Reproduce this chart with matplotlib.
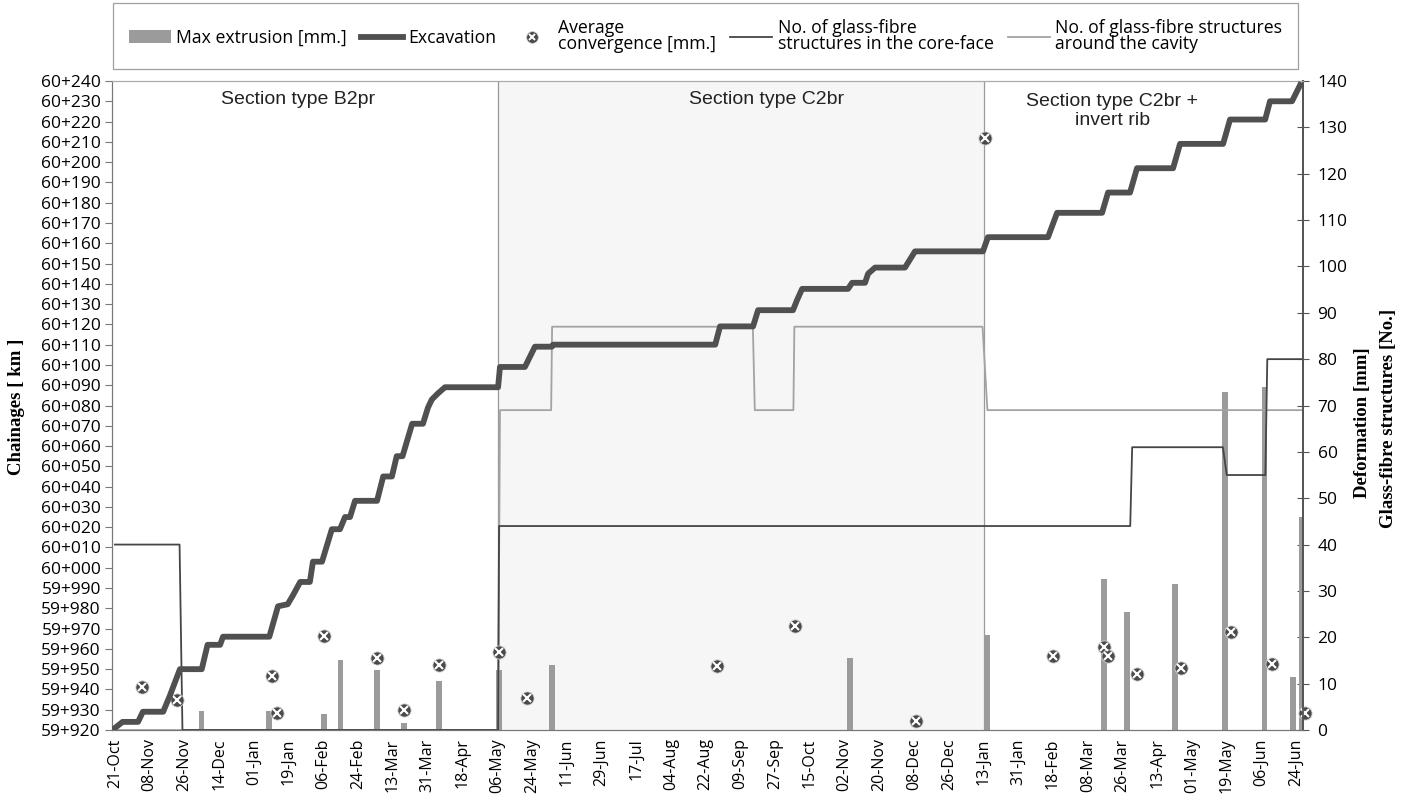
import matplotlib.pyplot as plt
from matplotlib.lines import Line2D
from matplotlib.patches import Patch
from matplotlib.ticker import FuncFormatter, MultipleLocator

plt.rcParams["font.family"] = ["Open Sans", "DejaVu Sans"]

# ------------------------------------
# Data (x = days counted from 21-Oct)
# ------------------------------------
tick_labels = [
    "21-Oct", "08-Nov", "26-Nov", "14-Dec", "01-Jan", "19-Jan", "06-Feb",
    "24-Feb", "13-Mar", "31-Mar", "18-Apr", "06-May", "24-May", "11-Jun",
    "29-Jun", "17-Jul", "04-Aug", "22-Aug", "09-Sep", "27-Sep", "15-Oct",
    "02-Nov", "20-Nov", "08-Dec", "26-Dec", "13-Jan", "31-Jan", "18-Feb",
    "08-Mar", "26-Mar", "13-Apr", "01-May", "19-May", "06-Jun", "24-Jun",
]
tick_step = 18

# excavation front, chainage in metres
exc_day = [
    0, 4, 12, 14.5, 25, 28.5, 33.7, 45, 48, 54.5, 56, 80, 84.5, 89.5, 92, 96,
    101, 102.6, 107.3, 112.4, 116.6, 119.2, 121.8, 124.4, 135.8, 139, 143.5,
    146, 149, 154, 159.6, 162.2, 164.2, 167.4, 171, 198.5, 199.5, 212.4, 215,
    217.6, 226.4, 227, 311, 313.5, 330.6, 333.2, 351.3, 353.4, 356, 379.8,
    381.9, 388.6, 390.2, 393.8, 409.3, 411.9, 414.5, 449.7, 452.3, 483.4,
    488.1, 511.4, 514.5, 525.9, 529.5, 548.2, 551.8, 574.1, 577.7, 595.9,
    598.4, 609.8, 614,
]
exc_chainage = [
    59921, 59924, 59924, 59929, 59929, 59937, 59950, 59950, 59962, 59962,
    59966, 59966, 59981, 59982, 59986, 59993, 59993, 60003, 60003, 60019,
    60019, 60025, 60025, 60033, 60033, 60045, 60045, 60055, 60055, 60071,
    60071, 60079, 60083, 60086, 60089, 60089, 60099, 60099, 60104, 60109,
    60109, 60110, 60110, 60119, 60119, 60127, 60127, 60132, 60137.5, 60137.5,
    60140.5, 60140.5, 60145, 60148, 60148, 60152, 60156, 60156, 60163, 60163,
    60175, 60175, 60185, 60185, 60197, 60197, 60209, 60209, 60221, 60221,
    60230, 60230, 60238,
]

# glass-fibre structures in the core-face
core_day = [0, 33.5, 35, 198.5, 199, 526, 527, 574, 576, 596, 597, 616]
core_count = [40, 40, 0, 0, 44, 44, 61, 61, 55, 55, 80, 80]

# glass-fibre structures around the cavity
cavity_day = [0, 198.5, 199.5, 226, 226.5, 330.5, 331.5, 351.5, 352, 449.5,
              452, 616]
cavity_count = [0, 0, 69, 69, 87, 87, 69, 69, 87, 87, 69, 69]

# max extrusion of the core-face
extrusion_day = [44.9, 79.9, 108.3, 116.9, 135.9, 149.9, 168.0, 199.0, 226.6,
                 380.8, 451.6, 512.4, 524.4, 549.2, 574.9, 595.6, 610.4, 615]
extrusion_mm = [4, 4, 3.5, 15, 13, 1.5, 10.5, 13, 14, 15.5, 20.5, 32.5, 25.5,
                31.5, 73, 74, 11.5, 46]

# average convergence
conv_day = [13.8, 32.0, 81.2, 84.1, 108.3, 135.9, 149.9, 168.0, 199.1, 213.3,
            311.8, 352.3, 415.0, 450.8, 485.8, 512.4, 514.7, 529.7, 552.3,
            578.1, 599.6, 616.6]
conv_mm = [9.2, 6.5, 11.6, 3.6, 20.3, 15.6, 4.3, 14.0, 16.9, 7.0, 13.8, 22.5,
           1.9, 127.6, 16.0, 17.8, 16.0, 12.1, 13.3, 21.1, 14.2, 3.7]

section_bounds = [198.5, 450]
section_names = ["Section type B2pr", "Section type C2br",
                 "Section type C2br +\ninvert rib"]

# ------------------------------------
# Figure
# ------------------------------------
fig = plt.figure(figsize=(14.12, 8.02), dpi=100)
ax = fig.add_axes([112 / 1412, 72 / 802, 1191 / 1412, 649 / 802])
ax2 = ax.twinx()

# middle section shading
ax2.axvspan(section_bounds[0], section_bounds[1], color="#f6f6f6", zorder=0)
for b in section_bounds:
    ax2.axvline(b, color="#9a9a9a", lw=0.9, zorder=1)

ax2.bar(extrusion_day, extrusion_mm, width=3, color="#9b9b9b", zorder=2)
ax2.plot(cavity_day, cavity_count, color="#a3a3a3", lw=1.3, zorder=3)
ax2.plot(core_day, core_count, color="#454545", lw=1.3, zorder=3)
ax2.plot(conv_day, conv_mm, ls="none", marker="o", ms=9.5,
         mfc="#4a4a4a", mec="#d0d0d0", mew=0.6, zorder=5, clip_on=False)
ax2.plot(conv_day, conv_mm, ls="none", marker="x", ms=5.5, mec="white",
         mew=1.5, zorder=6, clip_on=False)

ax.plot(exc_day, exc_chainage, color="#505050", lw=4.2,
        solid_joinstyle="round", zorder=4)
ax.set_zorder(ax2.get_zorder() + 1)
ax.patch.set_visible(False)

# axes limits and ticks
ax.set_xlim(-1.5, 615.5)
ax.set_ylim(59920, 60240)
ax2.set_ylim(0, 140)

ax.set_xticks([i * tick_step for i in range(len(tick_labels))])
ax.set_xticklabels(tick_labels, rotation=90, fontsize=11.5)
ax.tick_params(axis="x", length=0, pad=6)

ax.yaxis.set_major_locator(MultipleLocator(10))
ax.yaxis.set_major_formatter(
    FuncFormatter(lambda v, p: f"{int(round(v)) // 1000}+{int(round(v)) % 1000:03d}"))
ax.tick_params(axis="y", labelsize=12.5, length=5, color="#777777", pad=3)

ax2.yaxis.set_major_locator(MultipleLocator(10))
ax2.tick_params(axis="y", labelsize=12.5, length=9, direction="inout",
                color="#555555", pad=6)

for a in (ax, ax2):
    a.spines["left"].set_color("#777777")
    a.spines["bottom"].set_color("#777777")
    a.spines["top"].set_color("#aaaaaa")
    a.spines["top"].set_linewidth(0.8)
    a.spines["right"].set_color("#555555")
    a.spines["right"].set_linewidth(1.3)

# section names
ax.text(0.156, 0.971, section_names[0], transform=ax.transAxes,
        ha="center", va="center", fontsize=14, family="Liberation Sans",
        color="#222222")
ax.text(0.550, 0.971, section_names[1], transform=ax.transAxes,
        ha="center", va="center", fontsize=14, family="Liberation Sans",
        color="#222222")
ax.text(0.840, 0.954, section_names[2], transform=ax.transAxes,
        ha="center", va="center", fontsize=14, family="Liberation Sans",
        color="#222222", linespacing=1.2)

# axis titles
fig.text(17 / 1412, 1 - 407 / 802, "Chainages [ km ]", rotation=90,
         ha="center", va="center", fontsize=13.5, fontweight="bold",
         family="Liberation Serif")
fig.text(1363 / 1412, 1 - 423 / 802, "Deformation [mm]", rotation=90,
         ha="center", va="center", fontsize=13.5, fontweight="bold",
         family="Liberation Serif")
fig.text(1388 / 1412, 1 - 418 / 802, "Glass-fibre structures [No.]",
         rotation=90, ha="center", va="center", fontsize=13.5,
         fontweight="bold", family="Liberation Serif")

# legend
h_bar = Patch(facecolor="#9b9b9b", edgecolor="none")
h_exc = Line2D([], [], color="#505050", lw=4.2)
h_conv = (Line2D([], [], ls="none", marker="o", ms=8.5, mfc="#4a4a4a",
                 mec="#d0d0d0", mew=0.6),
          Line2D([], [], ls="none", marker="x", ms=5, mec="white", mew=1.4))
h_core = Line2D([], [], color="#454545", lw=1.3)
h_cav = Line2D([], [], color="#a3a3a3", lw=1.3)

leg = fig.legend(
    [h_bar, h_exc, h_conv, h_core, h_cav],
    ["Max extrusion [mm.]", "Excavation", "Average\nconvergence [mm.]",
     "No. of glass-fibre\nstructures in the core-face",
     "No. of glass-fibre structures\naround the cavity"],
    loc="upper left", bbox_to_anchor=(113 / 1412, 1 - 3 / 802, 1185 / 1412, 0),
    mode="expand", ncol=5, fontsize=12.7, frameon=True, fancybox=False,
    edgecolor="#888888", handlelength=2.4, handletextpad=0.3,
    borderpad=0.9, borderaxespad=0)
leg.get_frame().set_linewidth(0.9)
for t in leg.get_texts():
    t.set_linespacing(0.85)

fig.savefig("out.png", dpi=100)
